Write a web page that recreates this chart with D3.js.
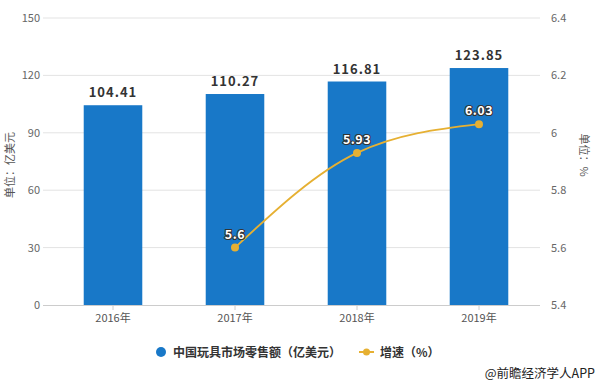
<!DOCTYPE html>
<html><head><meta charset="utf-8">
<script src="https://cdn.jsdelivr.net/npm/d3@7"></script>
<style>body{margin:0;background:#fff}svg{display:block}text{font-family:"Noto Sans CJK SC","Noto Sans",sans-serif}</style>
</head><body>
<svg id="c" width="600" height="384"></svg>
<script>
const categories = ["2016年","2017年","2018年","2019年"];
const salesValues = [104.41,110.27,116.81,123.85];
const growthYears = ["2017年","2018年","2019年"];
const growthValues = [5.6,5.93,6.03];
const leftTicks = [0,30,60,90,120,150];
const rightTicks = [5.4,5.6,5.8,6,6.2,6.4];

const svg = d3.select("#c");
const L = 52, R = 540, T = 18, B = 305;
const x = d3.scaleBand().domain(categories).range([L,R]).paddingInner(0.52).paddingOuter(0.26);
const yL = d3.scaleLinear().domain([0,150]).range([B,T]);
const yR = d3.scaleLinear().domain([5.4,6.4]).range([B,T]);

// grid
svg.append("g").selectAll("line").data(leftTicks.slice(1)).join("line")
  .attr("x1",43).attr("x2",R).attr("y1",d=>yL(d)).attr("y2",d=>yL(d))
  .attr("stroke","#e3e3e3").attr("stroke-width",1);

// left axis labels
const gl = svg.append("g").attr("transform",`translate(40,0)`)
  .call(d3.axisLeft(yL).tickValues(leftTicks).tickSize(0).tickPadding(0));
gl.select(".domain").remove();
gl.selectAll("text").attr("fill","#666").attr("font-size",11).attr("font-family","Liberation Sans, Arial, sans-serif");

const gr = svg.append("g").attr("transform",`translate(551,0)`)
  .call(d3.axisRight(yR).tickValues(rightTicks).tickSize(0).tickPadding(0).tickFormat(d=>String(d)));
gr.select(".domain").remove();
gr.selectAll("text").attr("fill","#666").attr("font-size",11).attr("font-family","Liberation Sans, Arial, sans-serif");

// bars
svg.append("g").selectAll("rect").data(salesValues).join("rect")
  .attr("x",(d,i)=>x(categories[i])).attr("width",x.bandwidth())
  .attr("y",d=>yL(d)).attr("height",d=>B-yL(d)).attr("fill","#1878c8");

// bottom axis
const gx = svg.append("g").attr("transform",`translate(0,${B})`)
  .call(d3.axisBottom(x).tickSize(5).tickPadding(4));
gx.select(".domain").attr("d",`M43,0.5H${R}`).attr("stroke","#ccc");
gx.selectAll(".tick line").attr("stroke","#ccc");
gx.selectAll("text").attr("fill","#555").attr("font-size",11);

// bar labels
svg.append("g").selectAll("text").data(salesValues).join("text")
  .attr("x",(d,i)=>x(categories[i])+x.bandwidth()/2).attr("y",d=>yL(d)-8)
  .attr("text-anchor","middle").attr("font-size",13).attr("font-weight","bold")
  .attr("letter-spacing","1px").attr("fill","#333").attr("font-family","Liberation Sans, Arial, sans-serif")
  .text(d=>d.toFixed(2));

// line
const cx = c => x(c)+x.bandwidth()/2;
const line = d3.line().x((d,i)=>cx(growthYears[i])).y(d=>yR(d)).curve(d3.curveMonotoneX);
svg.append("path").datum(growthValues).attr("d",line).attr("fill","none")
  .attr("stroke","#e6b032").attr("stroke-width",1.8);
svg.append("g").selectAll("circle").data(growthValues).join("circle")
  .attr("cx",(d,i)=>cx(growthYears[i])).attr("cy",d=>yR(d)).attr("r",4)
  .attr("fill","#e6b032");
svg.append("g").selectAll("text").data(growthValues).join("text")
  .attr("x",(d,i)=>cx(growthYears[i])).attr("y",d=>yR(d)-9)
  .attr("text-anchor","middle").attr("font-size",12.5).attr("font-weight","bold")
  .attr("letter-spacing","0.5px")
  .attr("fill","#fff").attr("stroke","#333").attr("stroke-width",2.2).attr("paint-order","stroke")
  .attr("font-family","Liberation Sans, Arial, sans-serif")
  .text(d=>String(d));

// axis titles
svg.append("text").attr("transform","translate(14,165) rotate(-90)").attr("text-anchor","middle")
  .attr("font-size",11).attr("fill","#555").text("单位：亿美元");
svg.append("text").attr("transform","translate(580,155) rotate(90)").attr("text-anchor","middle")
  .attr("font-size",11).attr("fill","#555").text("单位：%");

// legend
svg.append("circle").attr("cx",161).attr("cy",352).attr("r",5).attr("fill","#1878c8");
svg.append("text").attr("x",173).attr("y",356.5).attr("font-size",12).attr("font-weight","bold").attr("fill","#333")
  .text("中国玩具市场零售额（亿美元）");
svg.append("line").attr("x1",359).attr("x2",374).attr("y1",352).attr("y2",352).attr("stroke","#e6b032").attr("stroke-width",2);
svg.append("circle").attr("cx",366.5).attr("cy",352).attr("r",3.5).attr("fill","#e6b032");
svg.append("text").attr("x",380).attr("y",356.5).attr("font-size",12).attr("font-weight","bold").attr("fill","#333")
  .text("增速（%）");
svg.append("text").attr("x",595).attr("y",378).attr("text-anchor","end").attr("font-size",12.5).attr("fill","#222")
  .text("@前瞻经济学人APP");
</script>
</body></html>
